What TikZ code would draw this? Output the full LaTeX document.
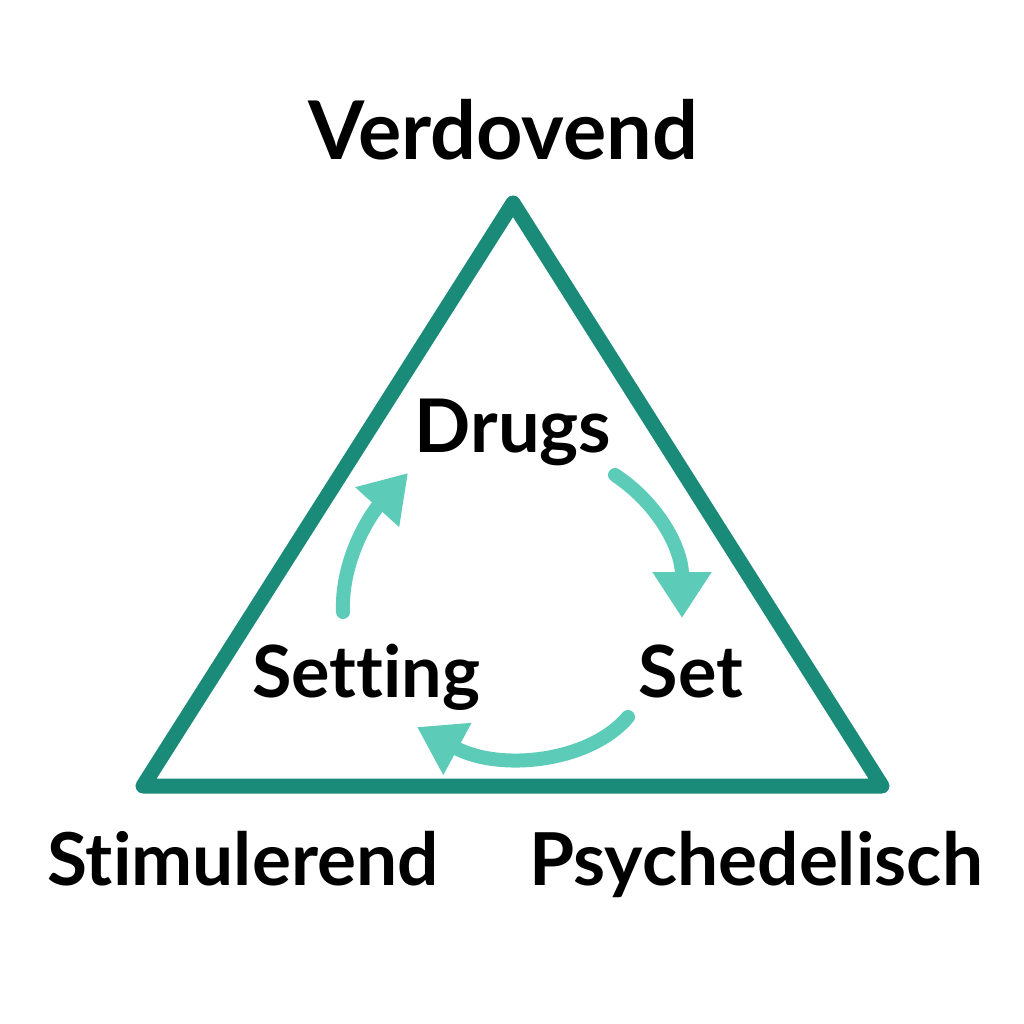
\documentclass[tikz,border=0pt]{standalone}
\usepackage{fontspec}
\setmainfont[Ligatures={NoCommon,NoRequired}]{Lato}
\usetikzlibrary{arrows.meta}
\definecolor{darkteal}{HTML}{1B8B79}
\definecolor{lightteal}{HTML}{5CCBB8}
\tikzset{
  lbl/.style={font=\fontsize{#1}{#1}\selectfont\bfseries, text=black, anchor=base, inner sep=0pt},
  tri/.style={draw=darkteal, line width=15pt, line join=round},
  cyc/.style={draw=lightteal, line width=14pt, line cap=round,
    -{Triangle[length=46pt,width=56pt]}}
}
\begin{document}
\begin{tikzpicture}[x=1pt,y=-1pt]
\useasboundingbox (0,0) rectangle (1024,1024);
\fill[white] (0,0) rectangle (1024,1024);
% triangle
\coordinate (top) at (513,203);
\coordinate (bl) at (143,786);
\coordinate (br) at (882,786);
\draw[tri] (top) -- (br) -- (bl) -- cycle;
% labels
\node[lbl=81] (verd) at (503,160) {Verdovend};
\node[lbl=74] (drugs) at (513,452) {Drugs};
\node[lbl=72] (setting) at (366,697) {Setting};
\node[lbl=72] (set) at (691,697) {Set};
\node[lbl=73] (stim) at (243,885) {Stimulerend};
\node[lbl=73] (psy) at (756,885) {Psychedelisch};
% cycle arrows
\coordinate (a1s) at (343,612);
\coordinate (a1e) at (408,473);
\coordinate (a2s) at (615,475);
\coordinate (a2e) at (682,618);
\coordinate (a3s) at (628,717);
\coordinate (a3e) at (417,727);
\draw[cyc] (a1s) .. controls (341,560) and (370,515) .. (a1e);
\draw[cyc] (a2s) .. controls (660,505) and (682,550) .. (a2e);
\draw[cyc] (a3s) .. controls (590,762) and (500,772) .. (a3e);
\end{tikzpicture}
\end{document}
